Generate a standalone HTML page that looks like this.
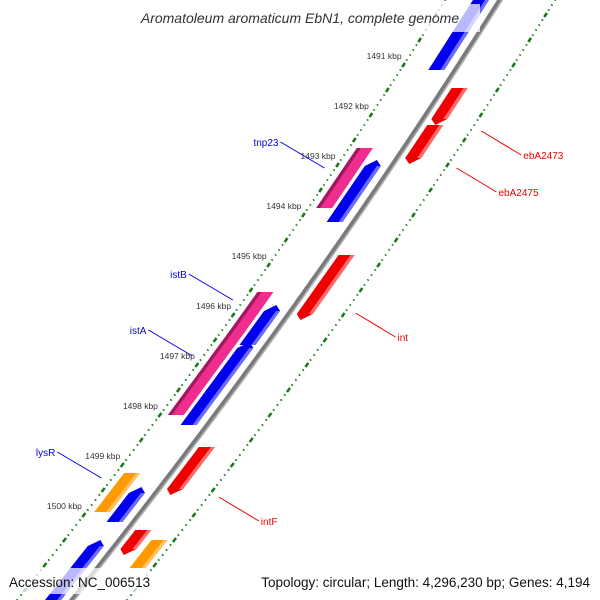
<!DOCTYPE html>
<html><head><meta charset="utf-8"><style>
html,body{margin:0;padding:0;background:#fff;width:600px;height:600px;overflow:hidden;}
svg{display:block;overflow:hidden;font-family:"Liberation Sans","DejaVu Sans",sans-serif;}
</style></head><body>
<svg id="map" width="600" height="600" viewBox="0 0 600 600"></svg>
<script>
const tickKbp = [1491,1492,1493,1494,1495,1496,1497,1498,1499,1500];
const featStart = [1489.5,1491.46,1492.2,1492.66,1492.9,1494.8,1495.54,1495.8,1496.3,1496.54,1498.64,1499.16,1499.44,1500.3,1500.5,1500.5];
const featEnd   = [1491.1,1492.2,1492.98,1493.86,1494.14,1496.1,1496.4,1496.6,1498.0,1498.2,1499.6,1499.94,1500.14,1500.8,1501.06,1501.9];
const featType  = ['fwd','rev','rev','pink','fwd','rev','pink','fwd','pink','fwd','rev','orangeL','fwd','rev','orangeR','fwd'];
const featNames = ['cds-1491','ebA2473','ebA2475','tnp23','cds-1493','int','istB','cds-1496','istA','cds-1497','intF','lysR','cds-1499','cds-1500a','cds-1500b','cds-1501'];
const labelText = ['tnp23','istB','istA','lysR','ebA2473','ebA2475','int','intF'];
const labelKbp  = [1493.06,1495.7,1496.82,1499.26,1492.32,1493.06,1495.96,1499.64];
const labelSide = [-1,-1,-1,-1,1,1,1,1];

const NS='http://www.w3.org/2000/svg';
const svg=document.getElementById('map');
function yOf(k){return 65+50*(k-1491);}
function bx(y){return 500-0.628*y-0.000142*y*y;}
function pt(y,off){return [bx(y)+off, y];}
function el(tag,attrs,parent){const e=document.createElementNS(NS,tag);for(const k in attrs)e.setAttribute(k,attrs[k]);(parent||svg).appendChild(e);return e;}
function poly(pts,fill,parent){return el('polygon',{points:pts.map(p=>p[0].toFixed(1)+','+p[1].toFixed(1)).join(' '),fill:fill},parent);}

// backbone
let bp=[];for(let y=-10;y<=610;y+=5)bp.push(pt(y,0));
const bbPath=bp.map((p,i)=>(i?'L':'M')+p[0].toFixed(1)+' '+p[1].toFixed(1)).join(' ');
const bb=el('path',{d:bbPath,stroke:'#7a7a7a','stroke-width':5,fill:'none'});


const bb2=el('path',{d:bbPath,stroke:'#b5b5b5','stroke-width':1.5,fill:'none',transform:'translate(1.5,1)'});



// dotted rings
const rings=el('g',{});


for(let k=14875;k<=15030;k++){
  const kb=k/10, y=yOf(kb);
  const major=(k%5===0);
  const len=major?4:1.2;
  for(const off of [-55,55]){
    const a=pt(y-len/2,off), b=pt(y+len/2,off);
    el('line',{x1:a[0],y1:a[1],x2:b[0],y2:b[1],stroke:'#1a7a1a','stroke-width':major?2.6:2},rings);
  }
}

// features
const cfg={fwd:{off:-19,c:'#0000ee',l:'#6a6aff',side:1},rev:{off:16,c:'#ee0000',l:'#ff6a6a',side:1},
pink:{off:-39,c:'#ee2d8f',l:'#a0185e',side:-1},orangeL:{off:-39,c:'#ff9900',l:'#ffc060',side:1},orangeR:{off:40,c:'#ff9900',l:'#ffc060',side:1}};
const W=16;
featStart.forEach((s,i)=>{
  const t=featType[i],c=cfg[t];
  const y1=yOf(s),y2=yOf(featEnd[i]);
  const g=el('g',{});
  
  
  const o=c.off, a=o-W/2, b=o+W/2, h=6;
  let pts=[];
  if(t==='fwd'){pts=[pt(y1,o),pt(y1+h,b),pt(y2,b),pt(y2,a),pt(y1+h,a)];}
  else if(t==='rev'){pts=[pt(y1,a),pt(y1,b),pt(y2-h,b),pt(y2,o),pt(y2-h,a)];}
  else{pts=[pt(y1,a),pt(y1,b),pt(y2,b),pt(y2,a)];}
  poly(pts,c.c,g);
  const e1=c.side>0?b-4:a, e2=c.side>0?b:a+4;
  const sy1=(t==='fwd')?y1+h:y1, sy2=(t==='rev')?y2-h:y2;
  poly([pt(sy1,e1),pt(sy1,e2),pt(sy2,e2),pt(sy2,e1)],c.l,g);
});

// tick labels
tickKbp.forEach(k=>{
  const p=pt(yOf(k),-55);
  const tx=el('text',{x:p[0]-2,y:p[1]-6,'font-size':8.5,fill:'#333','text-anchor':'end'});
  tx.textContent=k+' kbp';
  
  
});

// gene labels
labelText.forEach((s,i)=>{
  const side=labelSide[i], y=yOf(labelKbp[i]);
  const p=pt(y,side*66);
  const col=side<0?'#0000ee':'#ee0000';
  const q=side<0?[p[0]-44,p[1]-26]:[p[0]+40,p[1]+24];
  const ln=el('line',{x1:p[0],y1:p[1],x2:q[0],y2:q[1],stroke:col,'stroke-width':1});
  
  
  const tx=el('text',{x:side<0?q[0]-2:q[0]+2,y:q[1]+4,'font-size':10,fill:col,'text-anchor':side<0?'end':'start'});
  tx.textContent=s;
  
  
});

// title & footer
const tb=el('rect',{x:118,y:4,width:362,height:28,fill:'#fff','fill-opacity':0.72});


const tt=el('text',{x:300,y:23,'font-size':14,'font-style':'italic',fill:'#333','text-anchor':'middle'});
tt.textContent='Aromatoleum aromaticum EbN1, complete genome';


const fb=el('rect',{x:0,y:568,width:150,height:26,fill:'#fff','fill-opacity':0.72});


const f1=el('text',{x:9,y:587,'font-size':13.5,fill:'#111'});
f1.textContent='Accession: NC_006513';


const f2=el('text',{x:590,y:587,'font-size':13.5,fill:'#111','text-anchor':'end'});
f2.textContent='Topology: circular; Length: 4,296,230 bp; Genes: 4,194';


</script>
</body></html>
